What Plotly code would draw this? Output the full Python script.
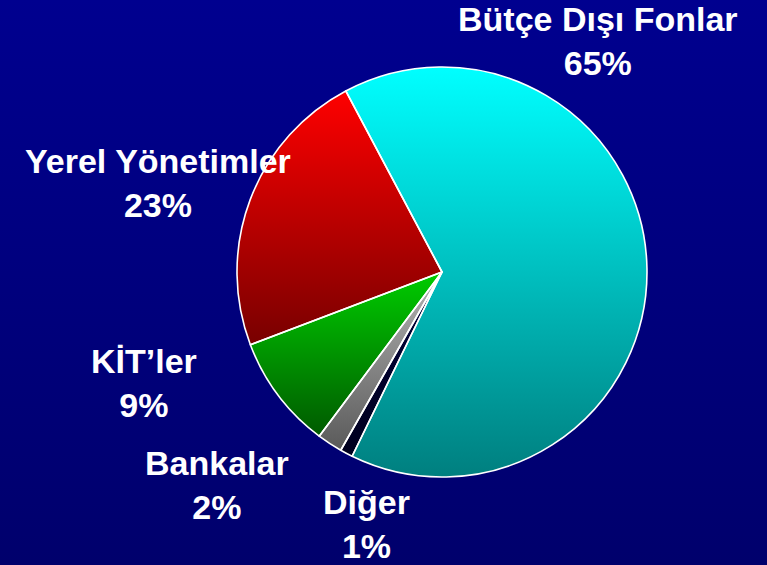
import numpy as np
import plotly.graph_objects as go

# Shares of the total, in clockwise order starting from the largest slice
labels = ["Bütçe Dışı Fonlar", "Diğer", "Bankalar", "KİT’ler", "Yerel Yönetimler"]
shares = [65, 1, 2, 9, 23]

# Vertical gradient per slice: colour at the top, colour at the bottom
top_colors = ["#00FFFF", "#00003A", "#B4B4B4", "#00CC00", "#FF0000"]
bottom_colors = ["#007F7F", "#00001E", "#5A5A5A", "#005A00", "#780000"]

# Label block centres (pixels, y measured downwards)
label_x = [598, 366, 217, 144, 158]
label_y = [41, 524, 485, 383, 183]

W, H = 767, 565
CX, CY, R = 442, 272, 205
START_DEG = -28          # first slice starts 28 degrees left of 12 o'clock
BG_TOP, BG_BOTTOM = "#00008F", "#00006C"
FONT = "Liberation Sans, Arial, sans-serif"


def vgrad(top, bottom):
    # y axis is reversed, so the low end of the colourscale sits at the bottom
    return dict(type="vertical", colorscale=[[0, bottom], [1, top]])


fig = go.Figure()

# Background with a top-to-bottom navy gradient
fig.add_trace(go.Scatter(
    x=[0, W, W, 0, 0], y=[0, 0, H, H, 0],
    fill="toself", mode="none", hoverinfo="skip", showlegend=False,
    fillgradient=vgrad(BG_TOP, BG_BOTTOM),
))

# Gradient-filled wedges built from the shares
total = float(sum(shares))
angle = START_DEG
for lab, v, c0, c1 in zip(labels, shares, top_colors, bottom_colors):
    sweep = 360.0 * v / total
    n = max(int(sweep * 2), 6)
    th = np.radians(np.linspace(angle, angle + sweep, n))
    xs = np.concatenate([[CX], CX + R * np.sin(th), [CX]])
    ys = np.concatenate([[CY], CY - R * np.cos(th), [CY]])
    fig.add_trace(go.Scatter(
        x=xs, y=ys, fill="toself", mode="none", name=lab,
        hoverinfo="skip", showlegend=False,
        fillgradient=vgrad(c0, c1),
    ))
    angle += sweep

# Pie on top supplies the white slice outlines
fig.add_trace(go.Pie(
    labels=labels, values=shares, sort=False, direction="clockwise",
    rotation=START_DEG, textinfo="none", showlegend=False,
    marker=dict(colors=["rgba(0,0,0,0)"] * len(labels),
                line=dict(color="white", width=1.6)),
    domain=dict(x=[(CX - R) / W, (CX + R) / W],
                y=[(H - CY - R) / H, (H - CY + R) / H]),
    hovertemplate="%{label}: %{value}%<extra></extra>",
))

# Category labels with percentages
for lab, v, lx, ly in zip(labels, shares, label_x, label_y):
    pct = round(100.0 * v / total)
    fig.add_annotation(
        x=lx, y=ly, xref="x", yref="y", showarrow=False,
        xanchor="center", yanchor="middle", align="center",
        text=f"<b>{lab}<br>{pct}%</b>",
        font=dict(family=FONT, size=34, color="white"),
    )

fig.update_layout(
    width=W, height=H,
    margin=dict(l=0, r=0, t=0, b=0),
    paper_bgcolor=BG_BOTTOM, plot_bgcolor=BG_BOTTOM,
    xaxis=dict(range=[0, W], visible=False, fixedrange=True),
    yaxis=dict(range=[H, 0], visible=False, fixedrange=True),
    showlegend=False,
)

fig.write_html("out.html")
